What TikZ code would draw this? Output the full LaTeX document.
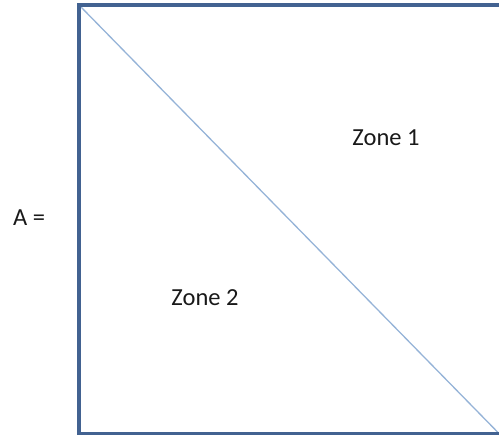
\documentclass[tikz,border=0pt]{standalone}
\usepackage{fontspec}
\setmainfont{Carlito}
\definecolor{boxblue}{RGB}{66,98,145}
\definecolor{diagblue}{RGB}{149,179,215}
\begin{document}
\begin{tikzpicture}[x=1pt,y=-1pt,
  lbl/.style={font=\fontsize{24.5}{29}\selectfont, text=black!90, inner sep=0pt, anchor=center}]
\useasboundingbox (0,0) rectangle (499,436);
\begin{scope}
\clip (0,0) rectangle (499,436);
\coordinate (tl) at (79,5);
\coordinate (tr) at (505,5);
\coordinate (bl) at (79,433.5);
\coordinate (br) at (505,433.5);
\coordinate (dend) at (499,433.5);
\draw[diagblue, line width=1.3pt] (tl) -- (dend);
\draw[boxblue, line width=3.2pt] (tr) -- (tl) -- (bl) -- (br);
\end{scope}
\node[lbl] (z1) at (386,137.5) {Zone 1};
\node[lbl] (z2) at (205,297.5) {Zone 2};
\node[lbl] (a) at (29,217.5) {A =};
\end{tikzpicture}
\end{document}
